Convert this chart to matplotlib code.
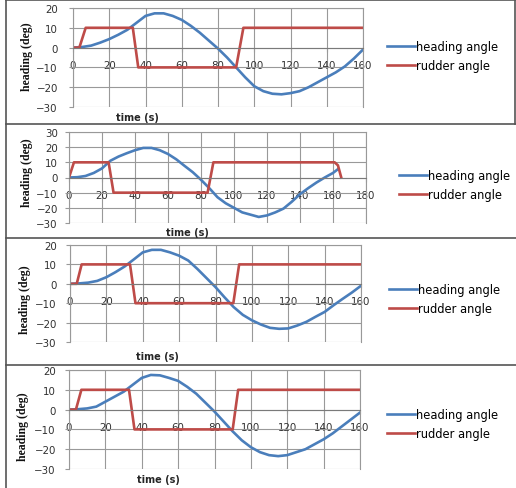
import matplotlib
matplotlib.use("Agg")
import matplotlib.pyplot as plt
from matplotlib.lines import Line2D

W, H = 516, 489

# ---------------- data ----------------
t1 = [0, 5, 10, 15, 20, 25, 30, 35, 40, 45, 50, 55, 60, 65, 70, 75, 80, 85, 90, 95,
      100, 105, 110, 115, 120, 125, 130, 135, 140, 145, 150, 155, 160]
heading1 = [0, 0.3, 1, 2.5, 4.3, 6.5, 9, 12.5, 16, 17.3, 17.3, 16, 14, 11, 7.5, 3.5,
            -0.5, -5, -10, -15, -19.5, -22, -23.3, -23.6, -23, -22, -20, -17.5, -15,
            -12.5, -9.5, -5.5, -1]
rt1 = [0, 3.5, 7, 33, 36, 90, 94, 160]
rudder1 = [0, 0, 10, 10, -10, -10, 10, 10]

t2 = [0, 5, 10, 15, 20, 25, 30, 35, 40, 45, 50, 55, 60, 65, 70, 75, 80, 85, 90, 95,
      100, 105, 110, 115, 120, 125, 130, 135, 140, 145, 150, 155, 160, 163]
heading2 = [0, 0.2, 1, 3, 6, 11, 13.8, 16, 18, 19.5, 19.5, 18, 15.5, 12, 7.7, 3.5,
            -1.5, -7, -13, -17, -20, -23, -24.5, -26, -25, -23, -20.5, -16, -11, -7,
            -3.3, 0, 3, 5.5]
rt2 = [0, 3, 24, 27, 84, 87.5, 161, 163, 164, 165]
rudder2 = [0, 10, 10, -10, -10, 10, 10, 8, 4, 0]

t3 = t1
heading3 = [0, 0.2, 0.6, 1.5, 3.4, 6, 8.9, 12.5, 16.2, 17.5, 17.5, 16.2, 14.5, 12, 7.7,
            3, -1.7, -7, -12, -16, -18.8, -21, -22.7, -23.2, -23, -21.5, -19.6, -17,
            -14.5, -11, -7.7, -4.5, -1]
rt3 = [0, 3.7, 6.4, 33, 36, 89.8, 93, 160]
rudder3 = [0, 0, 10, 10, -10, -10, 10, 10]

t4 = t1
heading4 = [0, 0.2, 0.6, 1.5, 4, 6.5, 9, 12.5, 16, 17.5, 17.3, 16, 14.5, 11.5, 8, 3.5,
            -1, -6, -11, -15.5, -19, -21.5, -23, -23.5, -23, -21.5, -20, -17.5, -15,
            -12, -8.5, -5, -1.5]
rt4 = [0, 3.8, 6.8, 33, 36, 90, 93, 160]
rudder4 = [0, 0, 10, 10, -10, -10, 10, 10]

series_names = ["heading angle", "rudder angle"]
x_label = "time (s)"
y_label = "heading (deg)"

xticks_160 = list(range(0, 161, 20))
xticks_180 = list(range(0, 181, 20))
yticks_20 = list(range(-30, 21, 10))
yticks_30 = list(range(-30, 31, 10))

BLUE = "#4a7ebb"
RED = "#be4b48"
GRID = "#999999"

panels = [
    dict(t=t1, h=heading1, rt=rt1, r=rudder1, xt=xticks_160, yt=yticks_20,
         box=(73, 363, 9, 108), xl=(137, 118), yl=(27, 57), lg=(387, 57), gap=15, sp=0.6),
    dict(t=t2, h=heading2, rt=rt2, r=rudder2, xt=xticks_180, yt=yticks_30,
         box=(69, 366, 133, 224), xl=(187, 233), yl=(27, 173), lg=(399, 186), gap=11, sp=0.45),
    dict(t=t3, h=heading3, rt=rt3, r=rudder3, xt=xticks_160, yt=yticks_20,
         box=(70, 361, 246, 343), xl=(157, 357), yl=(25, 300), lg=(389, 300), gap=13, sp=0.55),
    dict(t=t4, h=heading4, rt=rt4, r=rudder4, xt=xticks_160, yt=yticks_20,
         box=(69, 360, 371, 470), xl=(158, 480), yl=(23, 427), lg=(387, 425), gap=13, sp=0.55),
]

fig = plt.figure(figsize=(W / 100, H / 100), dpi=100)
fig.patch.set_facecolor("white")

for p in panels:
    l, r, t, b = p["box"]
    ax = fig.add_axes([l / W, 1 - b / H, (r - l) / W, (b - t) / H])
    ax.plot(p["t"], p["h"], color=BLUE, lw=1.9, label=series_names[0], solid_joinstyle="round")
    ax.plot(p["rt"], p["r"], color=RED, lw=1.9, label=series_names[1], solid_joinstyle="round")
    ax.set_xlim(p["xt"][0], p["xt"][-1])
    ax.set_ylim(p["yt"][0], p["yt"][-1])
    ax.set_xticks(p["xt"])
    ax.set_yticks(p["yt"])
    ax.grid(True, color=GRID, lw=0.8)
    ax.set_axisbelow(True)
    for s in ["top", "right", "bottom", "left"]:
        ax.spines[s].set_color(GRID)
        ax.spines[s].set_linewidth(0.8)
    ax.spines["bottom"].set_position(("data", 0))
    ax.spines["bottom"].set_color("#7a7a7a")
    ax.tick_params(axis="x", length=3, width=0.8, color=GRID, pad=6,
                   labelcolor="#303030", labelsize=7.4)
    ax.tick_params(axis="y", length=3, width=0.8, color=GRID,
                   pad=(p["gap"] - 4) * 0.72, labelcolor="#303030", labelsize=7.4)
    for lab in ax.get_xticklabels() + ax.get_yticklabels():
        lab.set_family("DejaVu Sans")

    fig.text(p["xl"][0] / W, 1 - p["xl"][1] / H, x_label, ha="center", va="center",
             fontsize=7, fontweight="bold", color="#262626", family="DejaVu Sans")
    fig.text(p["yl"][0] / W, 1 - p["yl"][1] / H, y_label, ha="center", va="center",
             rotation=90, fontsize=8.5, fontweight="bold", color="#111111",
             family="Liberation Serif")
    ax.legend(loc="center left", bbox_to_anchor=(p["lg"][0] / W, 1 - p["lg"][1] / H),
              bbox_transform=fig.transFigure, frameon=False, fontsize=8.3,
              handlelength=2.4, handletextpad=0.12, labelspacing=p["sp"],
              borderaxespad=0, borderpad=0)

frame_kw = dict(color="#555555", lw=1.2, transform=fig.transFigure)
fig.add_artist(Line2D([6 / W, 6 / W], [0, 1 - 1 / H], **frame_kw))
fig.add_artist(Line2D([514.5 / W, 514.5 / W], [1 - 125 / H, 1 - 1 / H], **frame_kw))
fig.add_artist(Line2D([6 / W, 514.5 / W], [1 - 1 / H, 1 - 1 / H], **frame_kw))
for yy in [125, 239, 366]:
    fig.add_artist(Line2D([6 / W, 1], [1 - yy / H, 1 - yy / H], **frame_kw))

fig.savefig("out.png", dpi=100, facecolor="white")
